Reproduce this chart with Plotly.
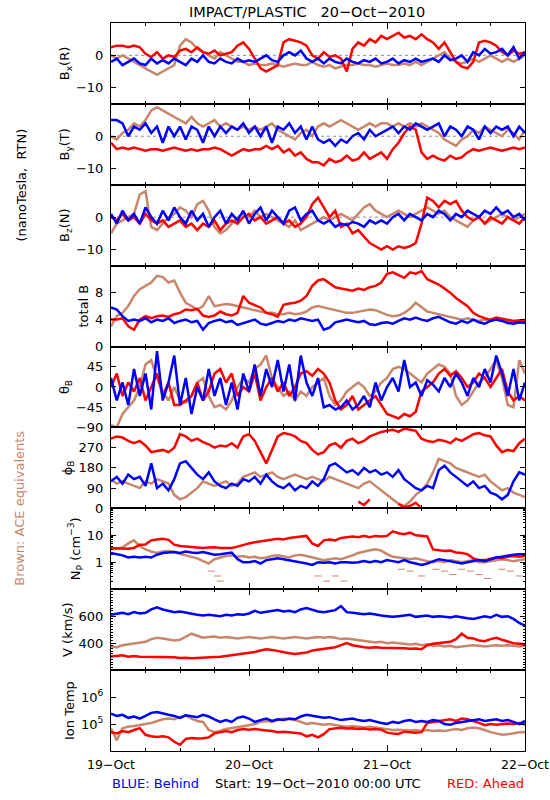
import plotly.graph_objects as go

HOURS = list(range(73))
TICK_HOURS = [0, 24, 48, 72]
TICK_DATES = ["19\u2212Oct", "20\u2212Oct", "21\u2212Oct", "22\u2212Oct"]
MINOR_HOURS = [6, 12, 18, 30, 36, 42, 54, 60, 66]

BX_BEHIND = [-2, -1, -3, -2, -1, -2.5, -3, -1, -2.5, -1.5, -2.5, -1,
             -2, -3, -1, -2, 0, -2, -2.5, -1, -2, -2.5, -1, -2,
             -1.5, -2, -1, 0, -1.5, -2, 0, 1, 0, 1.5, -1, -2,
             -1, -2.5, -1, -2, -2.5, -1, -2, -2.5, -1.5, -2, -1, -2.5,
             -2, -1, -2.5, -1.5, -2, -1, -2, -1.5, -1, -2, 0, -1.5,
             -1, 0, -2, 1, 0, 2, 0.5, 1, 2, 0, 2.5, -1, 1]
BX_AHEAD = [2.5, 3, 3, 2.5, 3, 2.5, 0.5, -0.5, 1, -1, 0, -0.5,
            1.5, 2, 1, 2.5, 1, 0.5, 1.5, 0, 0.5, 1, 3, 4,
            2, -1, -4, -5, -4, -3, 4, 5, 4.5, 4, 3, 0,
            -1, 1, -0.5, 0, -1, -5, 2, 4, 3, 5, 4, 6,
            5, 6, 7, 5.5, 6, 5, 6.5, 5, 4, 2, 4, 1,
            -2, -3.5, -4, -2, 4, 4.5, 4, 3, 1, 0, 1.5, 0.5, 1]
BX_ACE = [0, -1, 0, -1, -2, -3, -4, -5, -6, -5, -4, -3,
          3, 5, 4, 2, 1, 0, -1, 1, 0, -1, -2, -2,
          -3, -2.5, -3, -3, -2.5, -3, -3.5, -3, -2.5, -3, -3, -2,
          -3, -3.5, -3, -4, -3.5, -3, -3, -2.5, -3, -3, -3.5, -3,
          -2.5, -3, -3, -2.5, -3, -2, -3, -2, -1, 0, 1, -1,
          -2, -2.5, -2, -1, -2, -1, 0, -1, -2, -1, -2, -1, 0]

BY_BEHIND = [5, 5, 4, 0, 3, 2, 4, 1, 3, -2, 3, 0,
             3, -1, 3, 2, -2, 3, 0, 3, 1, 3, 2, 4,
             1, 3, 0, 3, -2, 3, 2, 4, 1, 3, -1, 3,
             -1, -2, -1, -3, -1, -2, 0, 1, -1, 2, 0, 1,
             2, 3, 1, 3, 2, 4, 3, 2, 3, 4, 0, 3,
             2, 0, 3, 2, -1, 3, 1, 3, 2, 3, 0, 3, 1]
BY_AHEAD = [-2, -4, -3.5, -4, -3.5, -4, -4.5, -4, -4, -4.5, -4, -3.5,
            -4, -4.5, -4, -4.5, -4, -4, -3.5, -4, -5, -6, -5, -4,
            -4.5, -4, -4, -3, -4, -3, -5, -4, -6, -5, -7, -8,
            -8, -9, -7, -8, -7.5, -6, -7.5, -7, -5, -7, -6, -5,
            -7, -4, -2, 1, 3, 2, -5, -7, -6, -7, -7.5, -6,
            -7, -6.5, -5, -4, -4.5, -4, -3.5, -4, -4.5, -4, -3.5, -4, -3.5]
BY_ACE = [0, -1, 1, 2, 4, 3, 5, 8, 9, 8, 7, 6,
          5, 4, 6, 4, 3, 4, 5, 3, 4, 3, 2, 3,
          2, 3, 2, 3, 4, 2, 1, 0, -1, 1, 2, 0,
          3, 4, 3, 4, 5, 4, 3, 2, 3, 4, 3, 4,
          4, 3, 4, 3, 4, 3, 4, 3, 2, 1, -1, -2,
          -3, -1, 0, 2, 1, 3, 2, 1, 0, 2, 1, -1, 2]

BZ_BEHIND = [1, -2, 2, -1, 1, -2, 3, 0, -2, 2, -1, 3,
             0, -2, 2, -1, 1, -3, 0, 2, -2, 1, -1, 2,
             -2, 1, 3, -1, 2, 0, -2, 2, 3, -1, 1, 2,
             -1, -2, -1, -3, -2, -2.5, -1.5, -2, -3, -1, -2, -1,
             -2, 0, 1, -1, 1, 0, -1, 1, 0, 2, 1, -1,
             1, 0, 2, 1, 0, 2, 1, 3, 1, 2, 0, 1, -1]
BZ_AHEAD = [0, -1, 1, -1, 0, -2, 1, -1, -2, -1, -3, -2,
            -1, -3, -2, -4, -2, -3, -1, -4, -2, -1, -2, 0,
            1, -1, 0, -2, -1, 0, -2, -1, -3, -2, 0, 4,
            6, 3, 0, 2, -3, -2, -5, -4, -6, -8, -9, -10,
            -9, -10, -9, -9.5, -9, -8, -2, 6, 5, 3, 5, 4,
            5, 2, 0, -1, 0, -2, 0, -1, -2, 0, -1, -2, 0]
BZ_ACE = [-5, -2, -1, 0, 1, 7, 8, -3, -4, -2, 0, 1,
          3, 2, 0, 4, 5, 2, -3, -5, -4, -2, 0, 1,
          0, 2, 0, 1, 0, -1, -2, -3, -1, -4, -3, -2,
          -1, 0, -1, 0, 1, 0, -1, 1, 3, 4, 2, 1,
          0, 1, 2, 1, 0, 1, 2, 3, 2, 1, 2, 0,
          -1, -2, -3, -1, 0, -2, -1, 0, 1, 0, -1, 0, 1]

BT_BEHIND = [5.8, 5.5, 4.5, 3.8, 4.0, 3.8, 4.2, 3.6, 4.0, 3.8, 4.2, 3.5,
             3.8, 4.0, 3.6, 3.8, 2.5, 3.5, 3.8, 4.0, 3.6, 3.8, 3.2, 3.5,
             3.8, 4.0, 3.4, 3.2, 3.5, 3.8, 3.6, 4.0, 3.8, 4.2, 4.0, 3.8,
             4.0, 2.5, 2.8, 3.6, 3.8, 4.0, 3.8, 3.6, 3.8, 3.3, 3.2, 3.5,
             3.6, 3.4, 3.8, 4.2, 4.0, 4.3, 4.0, 3.8, 4.2, 4.4, 4.0, 3.6,
             3.4, 3.8, 3.5, 4.0, 3.6, 3.4, 3.8, 4.0, 3.8, 3.5, 3.4, 3.6, 3.5]
BT_AHEAD = [4.0, 4.0, 4.2, 3.0, 2.5, 4.0, 4.5, 4.2, 4.5, 4.6, 4.4, 4.8,
            5.0, 5.5, 5.4, 5.6, 4.6, 4.4, 4.6, 5.2, 4.8, 4.6, 5.0, 7.5,
            6.5, 6.2, 5.8, 5.0, 4.8, 4.4, 6.2, 6.4, 6.5, 6.8, 7.5, 9.0,
            9.8, 10.0, 9.4, 8.8, 8.6, 8.4, 8.3, 8.6, 8.4, 8.8, 9.0, 9.5,
            10.8, 11.0, 10.6, 10.2, 11.0, 10.8, 11.2, 10.0, 9.6, 9.2, 8.6, 8.0,
            7.2, 6.6, 6.0, 5.0, 4.5, 4.2, 4.0, 4.3, 4.1, 4.0, 3.8, 3.9, 3.8]
BT_ACE = [3.0, 4.5, 5.0, 6.0, 7.5, 8.5, 9.0, 9.5, 10.5, 10.3, 9.5, 9.8,
          8.0, 6.5, 6.0, 5.5, 6.0, 7.5, 6.0, 6.2, 6.3, 6.2, 6.0, 5.8,
          5.5, 5.4, 5.2, 5.0, 5.0, 4.8, 4.8, 5.0, 4.8, 4.9, 5.2, 5.8,
          6.0, 5.8, 5.5, 5.3, 5.2, 5.0, 5.0, 5.2, 5.3, 5.5, 5.4, 5.0,
          4.7, 4.5, 4.6, 5.0, 5.6, 6.5, 5.8, 5.2, 5.0, 4.8, 4.6, 4.3,
          4.2, 4.0, 4.2, 4.0, 3.8, 4.0, 3.9, 4.0, 3.8, 3.7, 3.6, 3.5, 3.6]

TH_BEHIND = [20, -30, 10, -40, 40, -20, 30, -50, 80, -30, 10, 70,
             -40, 20, -60, 0, -30, 40, -20, 20, -40, 10, -50, 30,
             -10, 50, -20, 40, 0, 60, -10, 50, -30, 70, 10, -20,
             20, -45, -40, -50, -45, -30, -50, -40, -20, -45, 10, -30,
             0, 20, -10, 60, 0, 10, -20, 15, 5, -10, 20, 0,
             30, 10, -20, 20, 0, 40, 10, 70, 30, -20, 40, -30, 10]
TH_AHEAD = [0, 30, -20, 10, -10, 20, -30, 0, 30, -20, 10, -40,
            -40, -30, -20, 10, -30, -10, 30, 40, 10, 30, -20, 0,
            -10, 30, -30, 0, 20, -10, 10, -20, 0, 30, 35, 25,
            40, 30, 10, -30, -50, -40, -20, -50, -40, -30, -20, -40,
            -60, -65, -70, -60, -65, -55, -10, 0, 10, 30, 40, 25,
            35, 20, 0, 10, 30, 20, 0, 20, 40, -10, -30, -20, -30]
TH_ACE = [-85, -90, -60, -45, -30, 0, 50, 60, 20, -10, -30, 0,
          -30, -35, -20, 10, 20, -20, -45, -40, -50, -30, 0, 20,
          10, 40, 50, 70, 20, 0, -20, -10, -30, -10, -20, 0,
          10, 20, -20, -40, -30, -10, 0, 10, 0, -20, -10, 10,
          20, 40, 45, 40, 30, 20, 10, 30, 40, 50, 45, 30,
          -20, -40, -30, -10, 10, 20, 40, 60, 20, -40, -45, 60, 30]

PH_BEHIND = [120, 140, 110, 150, 130, 140, 100, 200, 90, 110, 80, 130,
             200, 210, 180, 150, 130, 160, 120, 100, 90, 110, 100, 130,
             120, 140, 110, 150, 120, 100, 90, 110, 80, 100, 90, 120,
             100, 130, 190, 200, 180, 160, 170, 150, 180, 160, 170, 150,
             160, 140, 170, 130, 110, 90, 80, 100, 90, 170, 190, 160,
             140, 120, 100, 120, 90, 100, 70, 60, 40, 60, 120, 160, 150]
PH_AHEAD = [310, 320, 315, 300, 290, 300, 280, 250, 255, 260, 250, 270,
            330, 320, 300, 310, 295, 285, 270, 280, 275, 290, 270, 320,
            330, 300, 250, 200, 260, 320, 335, 330, 320, 300, 290, 260,
            240, 250, 280, 290, 270, 300, 310, 290, 300, 320, 330, 340,
            345, 350, 340, 355, 350, 345, 310, 300, 295, 305, 300, 290,
            310, 300, 315, 330, 335, 325, 320, 280, 250, 260, 255, 290, 310]
PH_AHEAD_WRAP_HOURS = [43, 44, 45, 46, 50, 51, 52, 53, 54]
PH_AHEAD_WRAP = [30, 15, 40, None, 20, 5, 10, 25, 0]
PH_ACE = [130, 110, 120, 110, 100, 90, 120, 110, 130, 120, 110, 60,
          40, 50, 70, 90, 120, 110, 100, 110, 120, 100, 110, 140,
          150, 160, 140, 150, 160, 140, 130, 140, 150, 140, 130, 140,
          130, 120, 140, 130, 120, 110, 100, 90, 110, 120, 100, 80,
          60, 40, 20, 10, 30, 60, 80, 110, 160, 220, 210, 200,
          180, 170, 160, 150, 140, 150, 120, 100, 80, 90, 70, 60, 50]

NP_BEHIND = [2.2, 2.0, 1.8, 1.5, 1.6, 1.5, 1.6, 1.5, 1.9, 2.2, 2.3, 2.4,
             2.2, 2.5, 2.3, 2.2, 2.4, 2.1, 1.9, 2.0, 2.2, 2.3, 1.3, 1.0,
             1.0, 1.1, 0.9, 1.2, 1.3, 1.4, 1.3, 1.2, 1.1, 1.0, 0.9, 0.8,
             1.0, 0.95, 1.0, 0.9, 1.0, 1.0, 0.95, 1.0, 1.1, 1.0, 1.1, 1.0,
             1.2, 1.1, 1.0, 1.2, 1.0, 0.9, 0.8, 0.9, 1.1, 1.3, 1.2, 1.1,
             1.0, 0.9, 1.0, 1.1, 1.2, 1.1, 1.3, 1.5, 1.6, 1.8, 1.9, 2.0, 2.0]
NP_AHEAD = [3.3, 3.2, 3.3, 3.2, 3.4, 4.5, 4.6, 6.5, 7.0, 7.5, 6.8, 4.5,
            4.0, 3.8, 3.6, 3.5, 3.4, 3.5, 3.6, 3.4, 3.5, 3.4, 3.8, 4.5,
            5.0, 5.5, 6.0, 6.5, 7.0, 7.5, 7.0, 8.0, 8.5, 9.0, 9.5, 5.0,
            4.0, 6.5, 7.0, 6.5, 8.0, 8.5, 9.0, 8.5, 9.5, 8.5, 9.5, 9.0,
            9.5, 14.0, 12.0, 11.0, 12.5, 10.0, 9.5, 9.0, 3.0, 2.8, 2.6, 2.7,
            2.3, 2.2, 2.0, 1.4, 1.2, 1.2, 1.3, 1.5, 1.4, 1.6, 1.7, 1.6, 1.7]
NP_ACE = [3.0, 3.2, 3.5, 5.0, 6.5, 4.0, 3.0, 2.5, 2.2, 2.5, 2.6, 2.4,
          2.0, 1.8, 1.6, 1.4, 1.1, 0.9, 1.3, 1.5, 1.7, 1.8, 1.6, 1.7,
          1.5, 1.6, 1.4, 1.5, 1.7, 1.8, 1.6, 1.5, 1.8, 1.9, 1.7, 1.5,
          1.3, 1.2, 1.3, 1.4, 1.3, 1.5, 1.8, 2.2, 2.5, 2.8, 3.0, 2.7,
          2.0, 1.6, 1.5, 1.4, 1.3, 1.4, 1.2, 1.1, 1.0, 1.1, 1.0, 1.2,
          1.1, 1.0, 1.1, 1.2, 1.0, 1.0, 1.1, 1.2, 1.3, 1.2, 1.1, 1.2, 1.3]
NP_ACE_LOW_HOURS = [17.5, 18.5, 19, 36, 37.5, 39, 40.5, 50.5, 52, 54,
                    56.5, 58, 59.5, 61, 62.5, 64, 65.5, 68, 69.5, 71]
NP_ACE_LOW = [0.47, 0.31, 0.2, 0.31, 0.2, 0.31, 0.2, 0.55, 0.47, 0.31,
              0.55, 0.47, 0.35, 0.55, 0.47, 0.35, 0.25, 0.55, 0.47, 0.31]

V_BEHIND = [610, 620, 625, 615, 630, 620, 625, 650, 665, 650, 640, 630,
            635, 625, 615, 610, 605, 610, 605, 600, 610, 605, 615, 610,
            620, 640, 625, 630, 640, 645, 635, 640, 630, 650, 660, 645,
            635, 630, 640, 645, 675, 630, 625, 620, 615, 620, 610, 605,
            600, 595, 600, 605, 610, 595, 600, 605, 595, 600, 595, 590,
            600, 590, 585, 580, 590, 600, 590, 610, 595, 600, 580, 550, 530]
V_AHEAD = [300, 305, 310, 300, 305, 300, 300, 298, 295, 297, 300, 295,
           290, 292, 288, 290, 295, 292, 298, 300, 305, 310, 315, 320,
           325, 335, 345, 355, 350, 340, 330, 325, 320, 325, 330, 345,
           350, 355, 360, 370, 385, 400, 385, 375, 370, 365, 370, 365,
           365, 360, 360, 362, 358, 360, 355, 385, 395, 400, 405, 410,
           430, 470, 440, 435, 420, 415, 430, 440, 425, 410, 400, 395, 390]
V_ACE = [375, 370, 385, 390, 395, 400, 410, 430, 440, 435, 430, 420,
         425, 450, 470, 455, 440, 445, 450, 440, 445, 440, 435, 440,
         445, 440, 435, 440, 445, 440, 435, 440, 445, 440, 435, 440,
         445, 440, 445, 440, 430, 435, 430, 425, 420, 410, 405, 410,
         400, 405, 400, 395, 390, 395, 385, 390, 380, 385, 375, 380,
         370, 375, 380, 385, 380, 375, 380, 385, 380, 385, 380, 375, 380]

T_BEHIND = [2.4e5, 2.0e5, 2.2e5, 1.7e5, 1.9e5, 1.6e5, 2.0e5, 2.6e5, 2.8e5, 2.4e5, 2.2e5, 2.0e5,
            1.7e5, 2.1e5, 2.0e5, 1.8e5, 2.2e5, 1.9e5, 1.5e5, 1.2e5, 1.4e5, 1.2e5, 1.7e5, 1.9e5,
            1.6e5, 1.2e5, 1.4e5, 1.6e5, 1.3e5, 1.5e5, 1.4e5, 1.6e5, 1.5e5, 1.9e5, 2.2e5, 2.0e5,
            1.9e5, 1.7e5, 1.8e5, 1.6e5, 1.4e5, 1.5e5, 1.6e5, 1.4e5, 1.3e5, 1.4e5, 1.2e5, 1.1e5,
            1.0e5, 1.2e5, 1.1e5, 1.3e5, 1.4e5, 1.2e5, 1.3e5, 1.2e5, 1.4e5, 1.3e5, 1.0e5, 0.95e5,
            1.1e5, 1.2e5, 1.3e5, 1.4e5, 1.5e5, 1.3e5, 1.4e5, 1.5e5, 1.3e5, 1.4e5, 1.2e5, 1.0e5, 1.3e5]
T_AHEAD = [5e4, 4.5e4, 5.5e4, 5e4, 6e4, 7e4, 4e4, 3.5e4, 3.3e4, 3.5e4, 3.2e4, 2.2e4,
           1.7e4, 2.8e4, 3e4, 2.9e4, 3e4, 3.2e4, 4.5e4, 5e4, 5.5e4, 5e4, 6e4, 6.5e4,
           6.2e4, 6.5e4, 6e4, 5.8e4, 5.5e4, 5e4, 5.2e4, 5e4, 4.8e4, 4.5e4, 3.5e4, 4e4,
           3.2e4, 4.2e4, 6.5e4, 7e4, 7.2e4, 6.8e4, 7e4, 6.5e4, 6.8e4, 6.3e4, 6.5e4, 6.2e4,
           4.8e4, 4.5e4, 4.3e4, 5.2e4, 5e4, 4.8e4, 5e4, 1.1e5, 1.2e5, 1.3e5, 1.4e5, 1.5e5,
           1.3e5, 1.6e5, 1.5e5, 1.3e5, 1.1e5, 0.9e5, 1.0e5, 0.95e5, 1.0e5, 1.05e5, 1.0e5, 1.1e5, 0.95e5]
T_ACE = [7e4, 2.5e4, 7e4, 8e4, 8.5e4, 9e4, 1.0e5, 1.1e5, 1.3e5, 1.5e5, 1.6e5, 1.5e5,
         1.8e5, 2.1e5, 1.6e5, 1.3e5, 1.2e5, 6e4, 5e4, 5.5e4, 6.5e4, 7e4, 7.5e4, 8e4,
         9e4, 1.0e5, 1.2e5, 1.3e5, 1.2e5, 1.4e5, 1.6e5, 1.5e5, 1.4e5, 1.2e5, 1.0e5, 1.1e5,
         1.0e5, 9.5e4, 1.0e5, 9e4, 8.5e4, 8e4, 8.5e4, 8e4, 7.5e4, 8e4, 7.5e4, 7e4,
         6.5e4, 6e4, 6.2e4, 6e4, 5.8e4, 6e4, 5.5e4, 6e4, 5.5e4, 5.8e4, 5.5e4, 6e4,
         6.5e4, 6e4, 7e4, 7.5e4, 7e4, 6e4, 5e4, 4.5e4, 4e4, 4.2e4, 4.5e4, 5e4, 5e4]

for arr in [BX_BEHIND, BX_AHEAD, BX_ACE, BY_BEHIND, BY_AHEAD, BY_ACE, BZ_BEHIND, BZ_AHEAD, BZ_ACE,
            BT_BEHIND, BT_AHEAD, BT_ACE, TH_BEHIND, TH_AHEAD, TH_ACE, PH_BEHIND, PH_AHEAD, PH_ACE,
            NP_BEHIND, NP_AHEAD, NP_ACE, V_BEHIND, V_AHEAD, V_ACE, T_BEHIND, T_AHEAD, T_ACE]:
    assert len(arr) == 73, len(arr)

BLUE = "#0000ff"
RED = "#ff0000"
BROWN = "#c8876a"
FONT = "DejaVu Sans"

NP_MINOR = [0.2, 0.3, 0.4, 0.5, 0.6, 0.7, 0.8, 0.9, 2, 3, 4, 5, 6, 7, 8, 9,
            20, 30, 40, 50, 60, 70, 80, 90]
V_MINOR = [220, 240, 260, 280, 300, 320, 340, 360, 380, 420, 440, 460, 480, 500, 520,
           540, 560, 580, 620, 640, 660, 680, 700, 720, 740, 760, 780]

PANELS = [
    dict(title="B<sub>x</sub>(R)", data=(BX_ACE, BX_AHEAD, BX_BEHIND), rng=[-15, 10],
         tv=[-10, 0], tt=["\u221210", "0"], zero=True),
    dict(title="B<sub>y</sub>(T)", data=(BY_ACE, BY_AHEAD, BY_BEHIND), rng=[-15, 10],
         tv=[-10, 0], tt=["\u221210", "0"], zero=True),
    dict(title="B<sub>z</sub>(N)", data=(BZ_ACE, BZ_AHEAD, BZ_BEHIND), rng=[-15, 10],
         tv=[-10, 0], tt=["\u221210", "0"], zero=True),
    dict(title="total B", data=(BT_ACE, BT_AHEAD, BT_BEHIND), rng=[0, 12],
         tv=[0, 4, 8], tt=["0", "4", "8"]),
    dict(title="\u03b8<sub>B</sub>", data=(TH_ACE, TH_AHEAD, TH_BEHIND), rng=[-90, 90],
         tv=[-90, -45, 0, 45], tt=["\u221290", "\u221245", "0", "45"]),
    dict(title="\u03d5<sub>B</sub>", data=(PH_ACE, PH_AHEAD, PH_BEHIND), rng=[0, 360],
         tv=[0, 90, 180, 270], tt=["0", "90", "180", "270"]),
    dict(title="N<sub>P</sub> (cm<sup>\u22123</sup>)", data=(NP_ACE, NP_AHEAD, NP_BEHIND),
         rng=[-1, 2], log=True, tv=[1, 10], tt=["1", "10"], minor=NP_MINOR),
    dict(title="V (km/s)", data=(V_ACE, V_AHEAD, V_BEHIND), rng=[200, 800],
         tv=[400, 600], tt=["400", "600"], minor=V_MINOR),
    dict(title="Ion Temp", data=(T_ACE, T_AHEAD, T_BEHIND), rng=[4, 7], log=True,
         tv=[1e5, 1e6], tt=["10<sup>5</sup>", "10<sup>6</sup>"]),
]

N = len(PANELS)
fig = go.Figure()
layout = {}
for i, p in enumerate(PANELS):
    k = "" if i == 0 else str(i + 1)
    xa, ya = "x" + k, "y" + k
    for vals, col in zip(p["data"], (BROWN, RED, BLUE)):
        fig.add_trace(go.Scatter(x=HOURS, y=vals, mode="lines", xaxis=xa, yaxis=ya,
                                 line=dict(color=col, width=2.5), showlegend=False,
                                 hoverinfo="skip"))
    if i == 5:
        fig.add_trace(go.Scatter(x=PH_AHEAD_WRAP_HOURS, y=PH_AHEAD_WRAP, mode="lines",
                                 xaxis=xa, yaxis=ya, line=dict(color=RED, width=2.5),
                                 showlegend=False, connectgaps=False, hoverinfo="skip"))
    if i == 6:
        fig.add_trace(go.Scatter(x=NP_ACE_LOW_HOURS, y=NP_ACE_LOW, mode="markers",
                                 xaxis=xa, yaxis=ya, hoverinfo="skip",
                                 marker=dict(symbol="line-ew", size=5,
                                             line=dict(color=BROWN, width=1)),
                                 showlegend=False))
    top = 1 - i / N
    bot = 1 - (i + 1) / N
    xaxis = dict(domain=[0, 1], anchor=ya, range=[0, 72], showline=True, linecolor="black",
                 linewidth=1, mirror="ticks", ticks="inside", ticklen=6, tickwidth=1,
                 tickcolor="black", tickvals=TICK_HOURS, ticktext=TICK_DATES,
                 showticklabels=(i == N - 1), showgrid=False, zeroline=False,
                 automargin=False, ticklabelstandoff=2,
                 tickfont=dict(family=FONT, size=12.5, color="black"),
                 minor=dict(tickvals=MINOR_HOURS, ticks="inside",
                            ticklen=3, tickcolor="black", showgrid=False))
    if i > 0:
        xaxis["matches"] = "x"
    yaxis = dict(domain=[bot, top], anchor=xa, showline=True, linecolor="black",
                 linewidth=1, mirror="ticks", ticks="inside", ticklen=5, tickwidth=1,
                 tickcolor="black", tickvals=p["tv"], ticktext=p["tt"], showgrid=False,
                 zeroline=False, range=p["rng"], automargin=False, ticklabelstandoff=4,
                 tickfont=dict(family=FONT, size=13, color="black"),
                 title=dict(text=p["title"], font=dict(family=FONT, size=13, color="black"),
                            standoff=3))
    if p.get("minor"):
        yaxis["minor"] = dict(tickvals=p["minor"], ticks="inside", ticklen=2,
                              tickcolor="black", showgrid=False)
    if p.get("log"):
        yaxis["type"] = "log"
    layout["xaxis" + k] = xaxis
    layout["yaxis" + k] = yaxis
    if p.get("zero"):
        fig.add_shape(type="line", xref=xa + " domain", yref=ya, x0=0, x1=1, y0=0, y1=0,
                      line=dict(color="#909090", width=1, dash="dot"), layer="below")

fig.update_layout(template="none")
fig.update_layout(**layout)

annots = [
    dict(text="IMPACT/PLASTIC   20\u2212Oct\u22122010", x=0.473, y=1.0151, size=14.5,
         color="black", xanchor="center", yanchor="middle", angle=0),
    dict(text="(nanoTesla,  RTN)", x=-0.217, y=0.777, size=13, color="black",
         xanchor="center", yanchor="middle", angle=-90),
    dict(text="Brown: ACE equivalents", x=-0.22, y=0.334, size=13, color=BROWN,
         xanchor="center", yanchor="middle", angle=-90),
    dict(text="BLUE: Behind", x=0.0, y=-0.044, size=13, color=BLUE, xanchor="left",
         yanchor="middle", angle=0),
    dict(text="Start: 19\u2212Oct\u22122010 00:00 UTC", x=0.5, y=-0.044, size=13,
         color="black", xanchor="center", yanchor="middle", angle=0),
    dict(text="RED: Ahead", x=1.0, y=-0.044, size=13, color=RED, xanchor="right",
         yanchor="middle", angle=0),
]
for a in annots:
    fig.add_annotation(text=a["text"], x=a["x"], y=a["y"], xref="paper", yref="paper",
                       xanchor=a["xanchor"], yanchor=a["yanchor"], showarrow=False,
                       textangle=a["angle"], borderpad=0,
                       font=dict(family=FONT, size=a["size"], color=a["color"]))

# plot box at x 111-525, y 23-751 of the 550x800 page
fig.update_layout(width=550, height=800, margin=dict(l=111, r=25, t=23, b=49),
                  paper_bgcolor="white", plot_bgcolor="white", hovermode=False,
                  font=dict(family=FONT, size=13, color="black"), showlegend=False)

# drop the browser's default 8 px body margin so the figure sits at the page corner
fig.write_html("out.html", config={"displayModeBar": False, "staticPlot": True},
               post_script="document.body.style.margin='0px';")
